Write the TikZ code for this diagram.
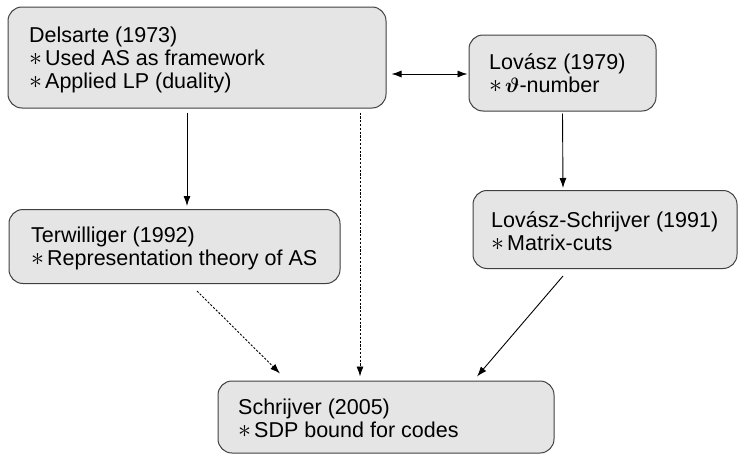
\documentclass[tikz,border=0pt]{standalone}
\usepackage{fontspec}
\setmainfont{Liberation Sans}
\usepackage{amsmath,bm,graphicx}
\usetikzlibrary{arrows.meta}
\tikzset{
  box/.style={draw=black!75, fill=black!10, line width=1pt, rounded corners=14pt, inner sep=0pt},
  txt/.style={anchor=base west, align=left, inner sep=0pt, font=\fontsize{21.5}{23}\selectfont},
  arr/.style={line width=0.9pt, -{Latex[length=10pt,width=7pt]}},
  dotarr/.style={arr, dash pattern=on 2.2pt off 1.6pt},
}
\newcommand{\bul}{\raisebox{-0.8pt}{\scalebox{1.25}{$\ast$}}\hspace{3pt}}
\begin{document}
\begin{tikzpicture}[x=1pt,y=-1pt]
\useasboundingbox (0,0) rectangle (738,455);
% boxes
\node[box, minimum width=378pt, minimum height=101pt] (D) at (197,57.5) {};
\node[box, minimum width=187pt, minimum height=76pt] (L) at (562.5,73) {};
\node[box, minimum width=331pt, minimum height=74pt] (T) at (174.5,246.5) {};
\node[box, minimum width=264pt, minimum height=78pt] (LS) at (605,229.5) {};
\node[box, minimum width=336pt, minimum height=72pt] (S) at (386,417) {};
% texts (anchored at the baseline of the last line)
\node[txt] (Dt) at (29,88) {Delsarte (1973)\\ \bul Used AS as framework\\ \bul Applied LP (duality)};
\node[txt] (Lt) at (489,92) {Lovász (1979)\\ \bul$\bm{\vartheta}$-number};
\node[txt] (Tt) at (31,265) {Terwilliger (1992)\\ \bul Representation theory of AS};
\node[txt] (LSt) at (491,250) {Lovász-Schrijver (1991)\\ \bul Matrix-cuts};
\node[txt] (St) at (238,437) {Schrijver (2005)\\ \bul SDP bound for codes};
% connectors
\draw[arr, {Latex[length=10pt,width=7pt]}-{Latex[length=10pt,width=7pt]}] ([xshift=5pt]D.east |- 0,74) -- ([xshift=-1pt]L.west |- 0,74);
\draw[arr] ([xshift=-10pt,yshift=-4pt]D.south) -- ([xshift=12.5pt,yshift=3pt]T.north);
\draw[dotarr] ([xshift=163pt,yshift=-4pt]D.south) -- ([xshift=-26pt,yshift=4pt]S.north);
\draw[arr] ([yshift=-2pt]L.south) -- ([xshift=-42pt,yshift=2pt]LS.north);
\draw[dotarr] ([xshift=22.5pt,yshift=-7pt]T.south) -- ([xshift=-106pt,yshift=7pt]S.north);
\draw[arr] ([xshift=-42pt,yshift=-7pt]LS.south) -- ([xshift=91pt,yshift=4pt]S.north);
\end{tikzpicture}
\end{document}
